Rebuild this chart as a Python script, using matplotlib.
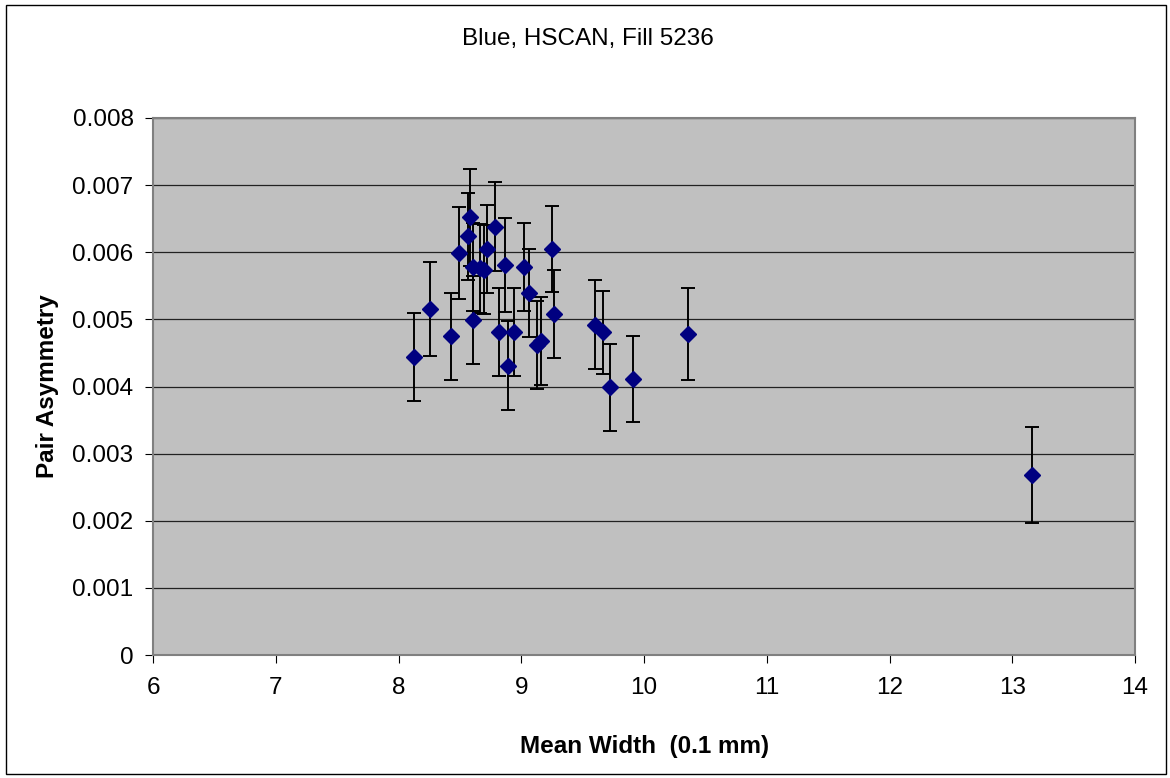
import matplotlib
matplotlib.use("Agg")
import matplotlib.pyplot as plt
from matplotlib.patches import Rectangle

mean_width = [8.13, 8.26, 8.43, 8.49, 8.57, 8.58, 8.61, 8.61, 8.66, 8.70, 8.72, 8.79,
              8.82, 8.87, 8.89, 8.94, 9.02, 9.06, 9.13, 9.16, 9.25, 9.27,
              9.60, 9.67, 9.72, 9.91, 10.36, 13.16]
pair_asym = [0.00444, 0.00515, 0.00475, 0.00599, 0.00624, 0.00652, 0.00578, 0.00499,
             0.00576, 0.00574, 0.00605, 0.00638, 0.00481, 0.00581, 0.00431, 0.00481,
             0.00578, 0.00539, 0.00462, 0.00468, 0.00605, 0.00508,
             0.00492, 0.00481, 0.00399, 0.00411, 0.00478, 0.00268]
asym_err = [0.00066, 0.00070, 0.00065, 0.00068, 0.00065, 0.00072, 0.00066, 0.00066,
            0.00066, 0.00066, 0.00066, 0.00066, 0.00066, 0.00070, 0.00066, 0.00066,
            0.00066, 0.00066, 0.00066, 0.00066, 0.00064, 0.00066,
            0.00066, 0.00062, 0.00065, 0.00064, 0.00069, 0.00072]
x_ticks = [6, 7, 8, 9, 10, 11, 12, 13, 14]
y_ticks = [0, 0.001, 0.002, 0.003, 0.004, 0.005, 0.006, 0.007, 0.008]
y_tick_labels = ["0", "0.001", "0.002", "0.003", "0.004", "0.005", "0.006", "0.007", "0.008"]

plt.rcParams['font.family'] = ['Liberation Sans', 'DejaVu Sans']

W, H = 1170, 778
fig = plt.figure(figsize=(W / 100, H / 100), dpi=100)
fig.patch.set_facecolor('white')
fig.patches.append(Rectangle((6 / W, 4 / H), (1166 - 6) / W, (773 - 4) / H,
                             transform=fig.transFigure, fill=False,
                             edgecolor='black', linewidth=1.0))

left, right, top, bottom = 153, 1135, 118, 655
ax = fig.add_axes([left / W, 1 - bottom / H, (right - left) / W, (bottom - top) / H])
ax.set_facecolor('#C0C0C0')
ax.set_xlim(6, 14)
ax.set_ylim(0, 0.008)
ax.set_xticks(x_ticks)
ax.set_xticklabels([str(t) for t in x_ticks])
ax.set_yticks(y_ticks)
ax.set_yticklabels(y_tick_labels)
ax.tick_params(axis='both', direction='out', length=6, width=0.8, labelsize=17.5,
               colors='black')
ax.tick_params(axis='x', pad=10)
ax.tick_params(axis='y', pad=8)
ax.yaxis.grid(True, color='#222222', linewidth=0.9)
ax.set_axisbelow(True)
for s in ['top', 'right', 'left', 'bottom']:
    ax.spines[s].set_color('#808080')
    ax.spines[s].set_linewidth(1.5)

ax.errorbar(mean_width, pair_asym, yerr=asym_err, fmt='D', color='#000080',
            markersize=8.5, ecolor='black', elinewidth=1.4, capsize=5,
            capthick=1.4, zorder=3)

fig.text(645 / W, 1 - 746 / H, 'Mean Width  (0.1 mm)', ha='center', va='center',
         fontsize=17.5, fontweight='bold')
fig.text(48 / W, 1 - 386 / H, 'Pair Asymmetry', ha='center', va='center',
         fontsize=17.5, fontweight='bold', rotation=90)
fig.text(588 / W, 1 - 39 / H, 'Blue, HSCAN, Fill 5236', ha='center', va='center',
         fontsize=17.5)

fig.savefig('out.png', dpi=100)
